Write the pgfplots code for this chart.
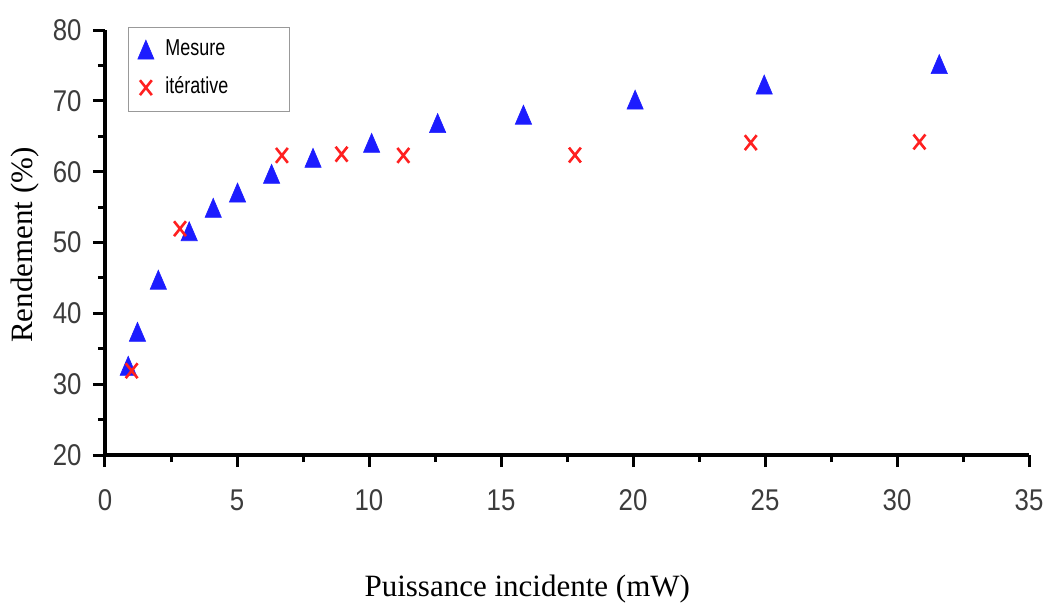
\documentclass[border=0pt]{standalone}
\usepackage{fontspec}
\setmainfont{Liberation Serif}
\newfontfamily\tickfont[FakeStretch=0.86]{Liberation Sans}
\newfontfamily\legfont[FakeStretch=0.78]{Liberation Sans}
\usepackage{pgfplots}
\pgfplotsset{compat=1.18}
\definecolor{mblue}{RGB}{28,28,255}
\definecolor{mred}{RGB}{255,32,32}
\definecolor{tickgray}{RGB}{60,60,60}
\begin{document}
\begin{tikzpicture}
\path[use as bounding box] (-52.5pt,-73.5pt) rectangle (471pt,227.5pt);
\begin{axis}[
  scale only axis, width=462pt, height=212.5pt,
  xmin=0, xmax=35, ymin=20, ymax=80,
  axis lines*=left,
  axis line style={line width=2pt, black},
  xtick={0,5,...,35}, ytick={20,30,...,80},
  minor x tick num=1, minor y tick num=1,
  tick align=outside,
  major tick length=6pt, minor tick length=3.5pt,
  tick style={black, line width=1.5pt},
  /pgf/number format/assume math mode=true,
  ticklabel style={font=\tickfont\fontsize{15}{15}\selectfont, text=tickgray},
  xticklabel style={anchor=north, inner sep=0pt, yshift=-11pt},
  yticklabel style={anchor=east, inner sep=0pt, xshift=-5.5pt},
  xlabel={Puissance incidente (mW)},
  ylabel={Rendement (\%)},
  xlabel style={at={(axis description cs:0.457,-0.334)}, anchor=base, font=\fontsize{15.5}{16}\selectfont},
  ylabel style={at={(axis description cs:-0.0866,0.494)}, anchor=center, font=\fontsize{15.5}{16}\selectfont},
  legend style={at={(axis description cs:0.025,1.007)}, anchor=north west,
    draw=gray!80, line width=0.6pt, inner xsep=0pt, inner ysep=5.5pt,
    row sep=7pt, column sep=1.2pt,
    font=\legfont\fontsize{11.5}{11.5}\selectfont,
    nodes={inner sep=0pt, text height=8.5pt, text depth=3.5pt}},
  legend cell align=left,
  legend image code/.code={\path (0pt,-2pt) (16.6pt,2pt); \draw[#1] plot coordinates {(8.3pt,0.5pt)};},
]
\addplot[only marks, mark=triangle*, color=mblue, mark size=4.7pt,
  mark options={line width=0.3pt, yshift=-1.6pt, yscale=1.35}]
  table {
x y
0.88 32.6
1.23 37.4
2.02 44.75
3.19 51.6
4.10 54.9
5.02 57.06
6.31 59.7
7.88 61.96
10.1 64.07
12.6 66.87
15.85 68.05
20.08 70.17
24.97 72.3
31.6 75.2
};
\addlegendentry{\makebox[62pt][l]{Mesure}}
\addplot[only marks, mark=x, color=mred, mark size=4.2pt,
  mark options={line width=1.3pt, yscale=1.25}]
  table {
x y
1.01 31.9
2.84 51.95
6.70 62.3
8.96 62.47
11.3 62.3
17.8 62.35
24.46 64.1
30.85 64.2
};
\addlegendentry{\makebox[62pt][l]{itérative}}
\end{axis}
\end{tikzpicture}
\end{document}
